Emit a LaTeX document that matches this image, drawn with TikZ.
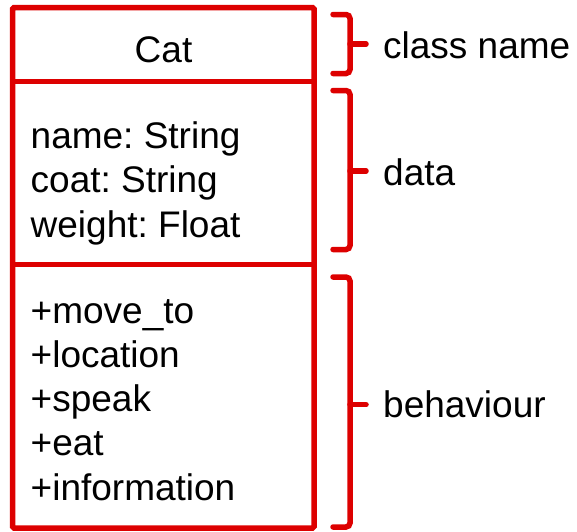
\documentclass[tikz,border=0pt]{standalone}
\usepackage{fontspec}
\setmainfont{Liberation Sans}
\definecolor{umlred}{RGB}{221,0,0}
\begin{document}
\frenchspacing
\begin{tikzpicture}[x=1pt,y=-1pt,
  lbl/.style={anchor=base west,inner sep=0pt,font=\fontsize{37}{44}\selectfont,text=black},
  frame/.style={draw=umlred,line width=5.5pt},
  brace/.style={draw=umlred,line width=5.5pt,rounded corners=4pt,line cap=round}]
\useasboundingbox (0,0) rectangle (577,531);
% class box
\draw[frame,rounded corners=1.5pt] (12.5,7.5) rectangle (314,528);
\draw[frame] (12.5,81.5) -- (314,81.5);
\draw[frame] (12.5,264.5) -- (314,264.5);
% texts
\node[anchor=base,inner sep=0pt,font=\fontsize{37}{44}\selectfont] (cat) at (163.5,62) {Cat};
\node[lbl] (d1) at (30.5,148) {name: String};
\node[lbl] (d2) at (30.5,192.5) {coat: String};
\node[lbl] (d3) at (30.5,237) {weight: Float};
\node[lbl] (b1) at (30.5,323) {+move\_to};
\node[lbl] (b2) at (30.5,367.3) {+location};
\node[lbl] (b3) at (30.5,411.6) {+speak};
\node[lbl] (b4) at (30.5,455.9) {+eat};
\node[lbl] (b5) at (30.5,500.2) {+information};
% labels
\node[lbl] (lcn) at (383,58) {class name};
\node[lbl] (ldata) at (383,185) {data};
\node[lbl] (lbeh) at (383,417) {behaviour};
% braces
\coordinate (t1) at (366,44);
\coordinate (t2) at (366,171);
\coordinate (t3) at (366,404.7);
\draw[brace] (333,14.5) -- (350,14.5) -- (350,73.5) -- (333,73.5);
\draw[brace] (350,44) -- (t1);
\draw[brace] (333,90.5) -- (350,90.5) -- (350,249.5) -- (333,249.5);
\draw[brace] (350,171) -- (t2);
\draw[brace] (333,277) -- (350,277) -- (350,527) -- (333,527);
\draw[brace] (350,404.7) -- (t3);
\end{tikzpicture}
\end{document}
